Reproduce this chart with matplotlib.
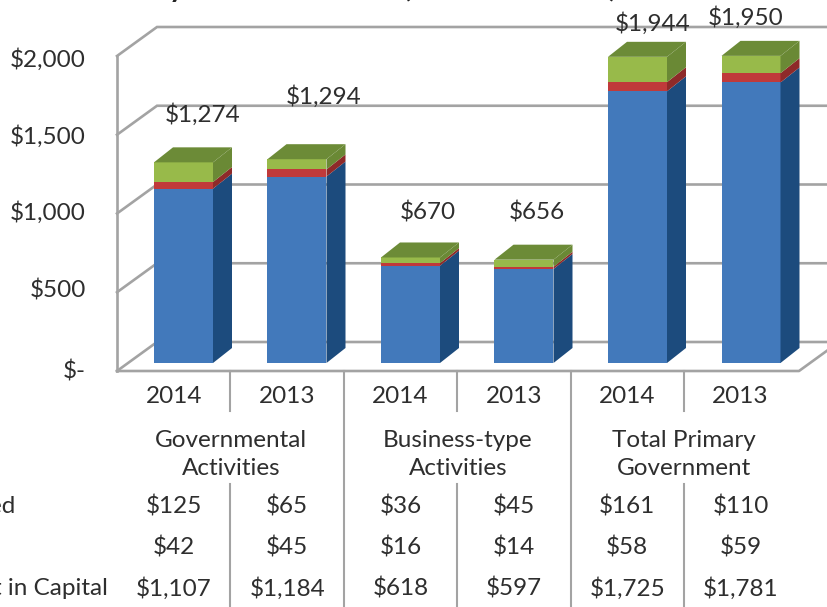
#!/usr/bin/env python3
"""3D-look stacked column chart with a data table underneath."""

import matplotlib
matplotlib.use('Agg')
import matplotlib.pyplot as plt
from matplotlib.patches import Polygon
from matplotlib.transforms import Affine2D

plt.rcParams['font.family'] = ['Lato', 'DejaVu Sans']

years = ['2014', '2013', '2014', '2013', '2014', '2013']
groups = ['Governmental\nActivities', 'Business-type\nActivities', 'Total Primary\nGovernment']
invested = [1107, 1184, 618, 597, 1725, 1781]
middle = [42, 45, 16, 14, 58, 59]
restricted = [125, 65, 36, 45, 161, 110]
totals = ['$1,274', '$1,294', '$670', '$656', '$1,944', '$1,950']
y_ticks = [0, 500, 1000, 1500, 2000]
y_labels = ['$-', '$500', '$1,000', '$1,500', '$2,000']
row_restricted = ['$125', '$65', '$36', '$45', '$161', '$110']
row_middle = ['$42', '$45', '$16', '$14', '$58', '$59']
row_invested = ['$1,107', '$1,184', '$618', '$597', '$1,725', '$1,781']

W, H = 827, 607
X0, X_STEP = 183.5, 113.5     # pixel of first column centre, column spacing
Y0, Y_SCALE = 371, 0.1575     # pixel of value 0, pixels per dollar

GRID = '#a3a3a3'
TEXT = '#2e2e2e'
FS = 17.5

fig = plt.figure(figsize=(W / 100, H / 100), dpi=100, facecolor='white')
ax = fig.add_axes([0, 0, 1, 1])
ax.set_xlim(-X0 / X_STEP, (W - X0) / X_STEP)
ax.set_ylim((Y0 - H) / Y_SCALE, Y0 / Y_SCALE)
ax.axis('off')

# pixel coordinates measured from the top left, for the table text
px = Affine2D().scale(1, -1).translate(0, H)


def xd(p):
    return p / X_STEP


def yd(p):
    return p / Y_SCALE


# walls and floor
left = (117 - X0) / X_STEP
right = (799 - X0) / X_STEP
wall_dx, wall_dy = xd(40), yd(29)
for v in y_ticks:
    ax.plot([left, left + wall_dx, 10], [v, v + wall_dy, v + wall_dy],
            color=GRID, lw=1.9, zorder=1, solid_joinstyle='miter')
ax.plot([left, left], [0, 2000], color=GRID, lw=1.9, zorder=1)
ax.plot([left, right, right + wall_dx], [0, 0, wall_dy], color=GRID, lw=1.9, zorder=2)

# stacked columns, front face plus side and top faces
bar_w = 59 / X_STEP
base = yd(8)
depth_x, depth_y = xd(19), yd(15)
series = [(invested, '#4279bb', '#1c4b7d'),
          (middle, '#c03a3a', '#8e2a29'),
          (restricted, '#98ba4a', '#6a8935')]
for i in range(len(years)):
    bottom = base
    xr = i + bar_w / 2
    for values, front, side in series:
        top = bottom + values[i]
        ax.bar(i, values[i], bar_w, bottom=bottom, color=front, linewidth=0, zorder=3)
        ax.add_patch(Polygon([(xr, bottom), (xr + depth_x, bottom + depth_y),
                              (xr + depth_x, top + depth_y), (xr, top)],
                             facecolor=side, edgecolor='none', zorder=3))
        bottom = top
    ax.add_patch(Polygon([(i - bar_w / 2, bottom), (xr, bottom),
                          (xr + depth_x, bottom + depth_y),
                          (i - bar_w / 2 + depth_x, bottom + depth_y)],
                         facecolor='#6c8b37', edgecolor='none', zorder=3))


def label(x, y, s, ha='center'):
    ax.text(x, y + 1.5, s, transform=px, ha=ha, va='center', fontsize=FS,
            color=TEXT, linespacing=1.45, zorder=5)


# total labels do not sit on the bars, they were placed by hand in the original
label_pos = [(203, 113), (324, 95), (428, 211), (537, 211), (653, 22), (746, 16)]
for (x, y), s in zip(label_pos, totals):
    label(x, y, s)

tick_y = [370, 289, 211, 135, 58]
for y, s in zip(tick_y, y_labels):
    label(86, y, s, ha='right')

# table below the plot
cols = [174 + 113.3 * i for i in range(6)]
for x, a, b, c, d in zip(cols, years, row_restricted, row_middle, row_invested):
    label(x, 395, a)
    label(x, 505, b)
    label(x, 546, c)
    label(x, 587, d)
for x, s in zip([231, 458, 684], groups):
    label(x, 453, s)

for x in [230, 457, 684]:
    ax.plot([x, x], [371, 411], transform=px, color=GRID, lw=1.5, zorder=2)
    ax.plot([x, x], [484, 607], transform=px, color=GRID, lw=1.5, zorder=2)
for x in [344, 571]:
    ax.plot([x, x], [371, 607], transform=px, color=GRID, lw=1.5, zorder=2)

# row headers and title are cut off by the picture edge, only these parts show
label(15, 505, 'ed', ha='right')
label(108, 587, 't in Capital', ha='right')
for x, s in [(177, 'y'), (407, '('), (612, ')')]:
    ax.text(x, -3, s, transform=px, ha='center', va='baseline', fontsize=21,
            fontweight='bold', color='#222222', clip_on=False)

fig.savefig('out.png', dpi=100, facecolor='white')
